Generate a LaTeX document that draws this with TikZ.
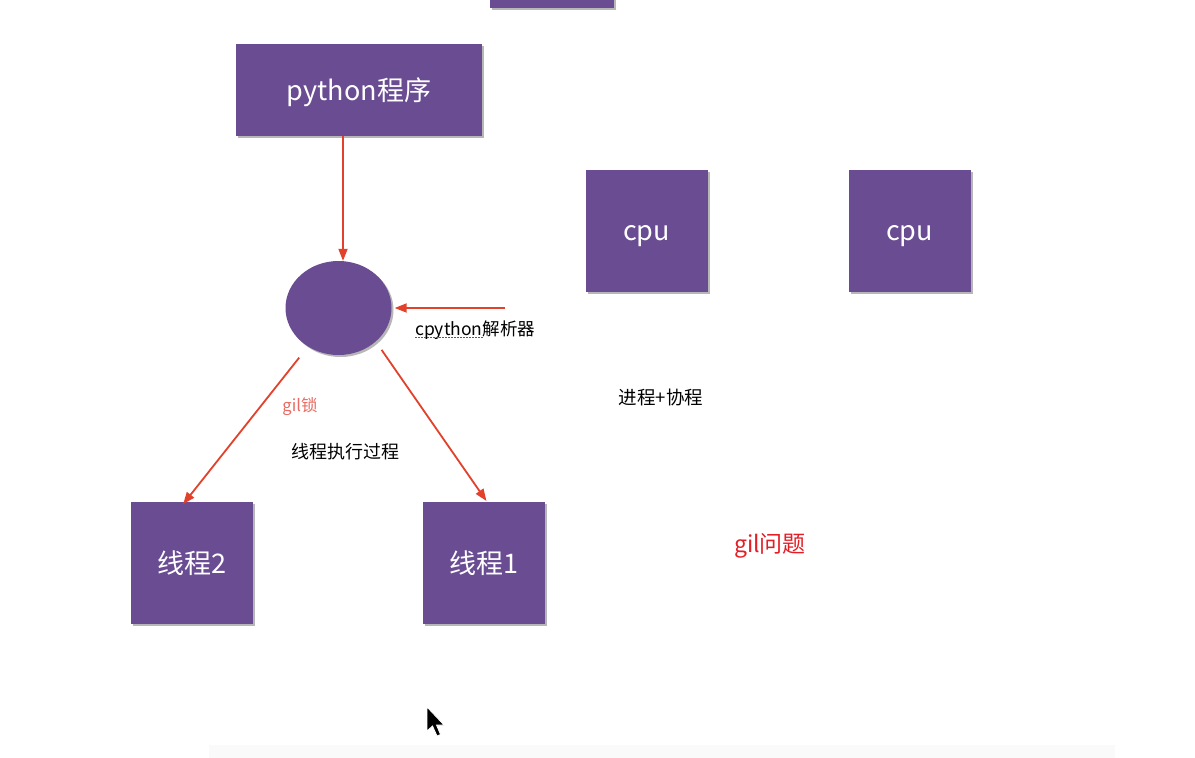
\documentclass[tikz,border=0pt]{standalone}
\usepackage{fontspec}
\setmainfont{Noto Sans CJK SC}
\usetikzlibrary{arrows.meta,shapes.geometric,shadows}
\definecolor{pur}{RGB}{106,76,147}
\definecolor{arrred}{RGB}{226,66,44}
\definecolor{salmon}{RGB}{232,108,98}
\definecolor{gilred}{RGB}{228,30,38}
\definecolor{spell}{RGB}{235,30,30}
\tikzset{
  shade box/.style={drop shadow={shadow xshift=2pt,shadow yshift=-2pt,opacity=0.4,fill=black!70}},
  box/.style={fill=pur, draw=none, text=white, inner sep=0pt, text height=24pt, text depth=4pt, font=\fontsize{27}{30}\selectfont, shade box},
  sq/.style={box, minimum width=122pt, minimum height=122pt},
  conn/.style={draw=arrred, line width=1.8pt, -{Triangle[length=12pt,width=9pt]}},
  lbl/.style={text=black, inner sep=0pt, font=\fontsize{18}{20}\selectfont},
}
\begin{document}
\begin{tikzpicture}[x=1pt,y=-1pt]
\useasboundingbox (0,0) rectangle (1195,758);
\fill[white] (0,0) rectangle (1195,758);
\fill[black!2] (209,745) rectangle (1115,758);

% boxes
\node[box, minimum width=124pt, minimum height=16pt, text height=0pt, text depth=0pt] (top) at (552,0) {};
\node[box, minimum width=246pt, minimum height=92pt] (py) at (359,90) {python程序};
\node[sq] (cpu1) at (646.5,230.5) {cpu};
\node[sq] (cpu2) at (909.5,230.5) {cpu};
\node[sq] (t2) at (192,563) {线程2};
\node[sq] (t1) at (484,563) {线程1};
\node[ellipse, fill=pur, draw=none, inner sep=0pt, minimum width=106pt, minimum height=94pt, shade box] (el) at (338.5,308) {};

% labels
\node[lbl, anchor=west, font=\fontsize{17.5}{19}\selectfont] (cp) at (415,330) {cpython解析器};
\draw[spell, line width=1.3pt, dash pattern=on 1.6pt off 1.4pt] ([yshift=-2.5pt]cp.base west) -- ([xshift=68pt,yshift=-2.5pt]cp.base west);
\node[inner sep=0pt, text=salmon, font=\fontsize{16.5}{18}\selectfont] (gl) at (300,407) {gil锁};
\node[lbl] (exec) at (345,452) {线程执行过程};
\node[lbl, font=\fontsize{18.5}{20}\selectfont] (proc) at (661,397) {进程+协程};
\node[inner sep=0pt, text=gilred, font=\fontsize{23}{25}\selectfont] (gq) at (770,546) {gil问题};

% connectors
\coordinate (cin) at (505,308);
\draw[conn] ([xshift=-16pt]py.south) -- ([xshift=4.5pt]el.north);
\draw[conn, shorten >=3pt] (cin) -- (el.east);
\draw[conn, shorten <=14pt, shorten >=-3pt] (el) -- ([xshift=-7pt]t2.north);
\draw[conn, shorten <=10pt, shorten >=1pt] (el.-42) -- ([xshift=3pt]t1.north);

% mouse pointer
\filldraw[fill=black, draw=white, line width=0.8pt] (427,707) -- (427,731) -- (432.5,726) -- (437,736) -- (440.5,734.5) -- (436.5,725) -- (444,725) -- cycle;
\end{tikzpicture}
\end{document}
